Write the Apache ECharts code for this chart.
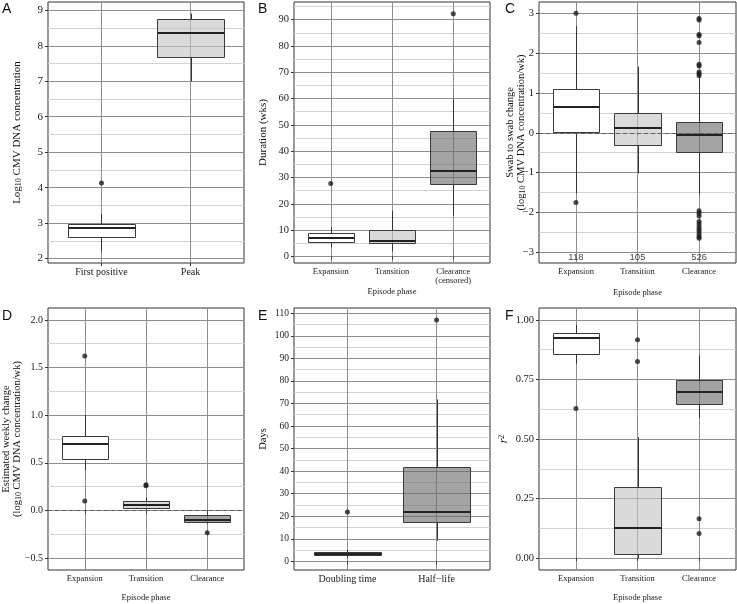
<!DOCTYPE html>
<html>
<head>
<meta charset="utf-8">
<script src="https://cdn.jsdelivr.net/npm/echarts@6/dist/echarts.min.js"></script>
<style>
html,body{margin:0;padding:0;background:#ffffff;}
#chart{width:737px;height:604px;}
</style>
</head>
<body>
<div id="chart"></div>
<script>
// ---------------- DATA ----------------
// box rows: [lower whisker, Q1, median, Q3, upper whisker]; outliers: [category position, value]

// Panel A
const aCategories = ['First positive', 'Peak'];
const aBoxes = [[2.21, 2.62, 2.86, 2.98, 3.26], [6.99, 7.69, 8.35, 8.75, 8.91]];
const aOutliers = [[1, 4.13]];
const aFills = ['white', 'light'];
const aRange = [1.876, 9.235];
const aMajorTicks = [2, 3, 4, 5, 6, 7, 8, 9];
const aMinorTicks = [2.5, 3.5, 4.5, 5.5, 6.5, 7.5, 8.5];

// Panel B
const bCategories = ['Expansion', 'Transition', 'Clearance\n(censored)'];
const bBoxes = [[3.5, 5.3, 7.1, 8.8, 11.1], [2.0, 5.2, 6.0, 10.2, 17.3], [15.5, 27.4, 32.3, 47.8, 59.8]];
const bOutliers = [[1, 27.7], [3, 92.2]];
const bFills = ['white', 'light', 'dark'];
const bRange = [-2.5, 96.7];
const bMajorTicks = [0, 10, 20, 30, 40, 50, 60, 70, 80, 90];
const bMinorTicks = [5, 15, 25, 35, 45, 55, 65, 75, 85, 95];

// Panel C
const cCategories = ['Expansion', 'Transition', 'Clearance'];
const cBoxes = [[-1.52, 0.03, 0.655, 1.09, 2.68], [-1.02, -0.31, 0.11, 0.49, 1.66], [-1.55, -0.49, -0.055, 0.26, 1.37]];
const cOutliers = [[1, 3.0], [1, -1.75],
  [3, 2.87], [3, 2.83], [3, 2.47], [3, 2.44], [3, 2.27], [3, 1.72], [3, 1.68], [3, 1.53], [3, 1.48], [3, 1.43],
  [3, -1.96], [3, -2.02], [3, -2.09], [3, -2.23], [3, -2.29], [3, -2.36], [3, -2.42], [3, -2.48], [3, -2.55], [3, -2.61], [3, -2.65]];
const cCounts = ['118', '105', '526'];
const cCountY = -3.13;
const cFills = ['white', 'light', 'dark'];
const cRange = [-3.27, 3.285];
const cMajorTicks = [-3, -2, -1, 0, 1, 2, 3];
const cMinorTicks = [-2.5, -1.5, -0.5, 0.5, 1.5, 2.5];
const cRefLine = 0;

// Panel D
const dCategories = ['Expansion', 'Transition', 'Clearance'];
const dBoxes = [[0.42, 0.54, 0.695, 0.78, 1.0], [0.01, 0.024, 0.06, 0.097, 0.135], [-0.14, -0.123, -0.099, -0.05, -0.03]];
const dOutliers = [[1, 1.62], [1, 0.10], [2, 0.27], [2, 0.26], [3, -0.235]];
const dFills = ['white', 'light', 'dark'];
const dRange = [-0.625, 2.125];
const dMajorTicks = [-0.5, 0, 0.5, 1.0, 1.5, 2.0];
const dMinorTicks = [-0.25, 0.25, 0.75, 1.25, 1.75];
const dRefLine = 0;

// Panel E
const eCategories = ['Doubling time', 'Half\u2212life'];
const eBoxes = [[1.5, 2.7, 3.5, 4.3, 5.0], [9.2, 17.6, 22.0, 41.9, 71.8]];
const eOutliers = [[1, 21.9], [2, 107.0]];
const eFills = ['white', 'dark'];
const eRange = [-3.8, 112.3];
const eMajorTicks = [0, 10, 20, 30, 40, 50, 60, 70, 80, 90, 100, 110];
const eMinorTicks = [5, 15, 25, 35, 45, 55, 65, 75, 85, 95, 105];

// Panel F
const fCategories = ['Expansion', 'Transition', 'Clearance'];
const fBoxes = [[0.817, 0.857, 0.925, 0.947, 0.979], [0.0, 0.018, 0.128, 0.30, 0.508], [0.59, 0.646, 0.698, 0.747, 0.85]];
const fOutliers = [[1, 0.628], [2, 0.917], [2, 0.825], [3, 0.165], [3, 0.103]];
const fFills = ['white', 'light', 'dark'];
const fRange = [-0.05, 1.05];
const fMajorTicks = [0, 0.25, 0.5, 0.75, 1.0];
const fMinorTicks = [0.125, 0.375, 0.625, 0.875];

// ---------------- STYLE ----------------
const SERIF = 'Liberation Serif';
const SANS = 'Liberation Sans';
const FILL = { white: '#ffffff', light: 'rgba(196,196,196,0.62)', dark: 'rgba(108,108,108,0.62)' };
const MAJOR_GRID = '#8e8e8e';
const MINOR_GRID = '#d2d2d2';
const BORDER = '#333333';
const BOX_HALF = 0.375;

const subRich = { fontFamily: SERIF, fontSize: 8, lineHeight: 5, padding: [3, 0, 0, 0], verticalAlign: 'bottom', color: '#111' };

const panels = [
  { letter: 'A', lx: 2, ly: 2, grid: { left: 48, top: 2, width: 196, height: 261 },
    cats: aCategories, boxes: aBoxes, outliers: aOutliers, fills: aFills, range: aRange, major: aMajorTicks, minor: aMinorTicks, dec: 0,
    tickFont: 11, catFont: 10, yName: '{n|Log}{sub|10}{n| CMV DNA concentration}', yNameFont: 11, yNameGap: 25, xName: '', xNameGap: 0 },
  { letter: 'B', lx: 258, ly: 2, grid: { left: 294, top: 2, width: 196, height: 261 },
    cats: bCategories, boxes: bBoxes, outliers: bOutliers, fills: bFills, range: bRange, major: bMajorTicks, minor: bMinorTicks, dec: 0,
    tickFont: 10.5, catFont: 8.5, yName: 'Duration (wks)', yNameFont: 11, yNameGap: 25, xName: 'Episode phase', xNameGap: 24 },
  { letter: 'C', lx: 505, ly: 2, grid: { left: 539, top: 2, width: 197, height: 261 },
    cats: cCategories, boxes: cBoxes, outliers: cOutliers, fills: cFills, range: cRange, major: cMajorTicks, minor: cMinorTicks, dec: 0,
    tickFont: 10.5, catFont: 8.5, yName: 'Swab to swab change\n({n|log}{sub|10}{n| CMV DNA concentration/wk})', yNameFont: 10.5, yNameGap: 12,
    xName: 'Episode phase', xNameGap: 25, refLine: cRefLine, counts: cCounts, countY: cCountY },
  { letter: 'D', lx: 2, ly: 309, grid: { left: 48, top: 308, width: 196, height: 262 },
    cats: dCategories, boxes: dBoxes, outliers: dOutliers, fills: dFills, range: dRange, major: dMajorTicks, minor: dMinorTicks, dec: 1,
    tickFont: 10, catFont: 8.5, yName: 'Estimated weekly change\n({n|log}{sub|10}{n| CMV DNA concentration/wk})', yNameFont: 10.5, yNameGap: 25,
    xName: 'Episode phase', xNameGap: 23, refLine: dRefLine },
  { letter: 'E', lx: 258, ly: 309, grid: { left: 294, top: 308, width: 196, height: 262 },
    cats: eCategories, boxes: eBoxes, outliers: eOutliers, fills: eFills, range: eRange, major: eMajorTicks, minor: eMinorTicks, dec: 0,
    tickFont: 9.5, catFont: 10, yName: 'Days', yNameFont: 10.5, yNameGap: 25, xName: '', xNameGap: 0 },
  { letter: 'F', lx: 505, ly: 309, grid: { left: 539, top: 308, width: 197, height: 262 },
    cats: fCategories, boxes: fBoxes, outliers: fOutliers, fills: fFills, range: fRange, major: fMajorTicks, minor: fMinorTicks, dec: 2,
    tickFont: 10.5, catFont: 8.5, yName: '{it|r}{sup|2}', yNameFont: 11, yNameGap: 30, xName: 'Episode phase', xNameGap: 23 }
];

function fmt(v, dec) {
  const s = Number(v).toFixed(dec);
  return s.replace('-', '\u2212');
}

function makeRender(fills) {
  return function (params, api) {
    const x = api.value(0);
    const pt = k => api.coord([x, api.value(k)]);
    const lo = pt(1), q1 = pt(2), md = pt(3), q3 = pt(4), hi = pt(5);
    const xl = api.coord([x - BOX_HALF, api.value(3)])[0];
    const xr = api.coord([x + BOX_HALF, api.value(3)])[0];
    const cx = Math.round(lo[0]) + 0.5;
    const L = Math.round(xl) + 0.5, R = Math.round(xr) + 0.5;
    const T = Math.round(q3[1]) + 0.5, B = Math.round(q1[1]) + 0.5;
    const M = Math.round(md[1]);
    const ws = { stroke: '#333333', lineWidth: 1, fill: null };
    return {
      type: 'group',
      children: [
        { type: 'line', shape: { x1: cx, y1: hi[1], x2: cx, y2: T }, style: ws },
        { type: 'line', shape: { x1: cx, y1: B, x2: cx, y2: lo[1] }, style: ws },
        { type: 'rect', shape: { x: L, y: T, width: R - L, height: B - T },
          style: { fill: FILL[fills[params.dataIndex]], stroke: '#3a3a3a', lineWidth: 1 } },
        { type: 'line', shape: { x1: L, y1: M, x2: R, y2: M }, style: { stroke: '#222222', lineWidth: 2, fill: null } }
      ]
    };
  };
}

const option = {
  animation: false,
  backgroundColor: '#ffffff',
  grid: [], xAxis: [], yAxis: [], series: [],
  graphic: []
};

panels.forEach((p, i) => {
  const n = p.cats.length;
  const positions = p.cats.map((c, k) => k + 1);
  option.grid.push(Object.assign({ show: true, borderColor: BORDER, borderWidth: 1, backgroundColor: 'transparent', containLabel: false, outerBoundsMode: 'none' }, p.grid));
  option.xAxis.push({
    type: 'value', gridIndex: i, min: 0.4, max: n + 0.6,
    axisLine: { show: false },
    axisTick: { show: true, customValues: positions, length: 3, lineStyle: { color: BORDER, width: 1 } },
    axisLabel: { customValues: positions, margin: 4, fontFamily: SERIF, fontSize: p.catFont, color: '#1a1a1a', lineHeight: p.catFont + 1,
      formatter: v => p.cats[Math.round(v) - 1] },
    splitLine: { show: true, lineStyle: { color: MAJOR_GRID, width: 1 } },
    name: p.xName, nameLocation: 'middle', nameGap: p.xNameGap, nameMoveOverlap: false,
    nameTextStyle: { fontFamily: SERIF, fontSize: 8.5, color: '#1a1a1a' }
  });
  // minor grid axis
  option.yAxis.push({
    type: 'value', gridIndex: i, min: p.range[0], max: p.range[1], position: 'left',
    axisLine: { show: false }, axisLabel: { show: false },
    axisTick: { show: false, customValues: p.minor },
    splitLine: { show: true, lineStyle: { color: MINOR_GRID, width: 1 } }
  });
  // major axis
  option.yAxis.push({
    type: 'value', gridIndex: i, min: p.range[0], max: p.range[1], position: 'left',
    axisLine: { show: false },
    axisTick: { show: true, customValues: p.major, length: 3, lineStyle: { color: BORDER, width: 1 } },
    axisLabel: { customValues: p.major, margin: 5, fontFamily: SERIF, fontSize: p.tickFont, color: '#1a1a1a',
      formatter: v => fmt(v, p.dec) },
    splitLine: { show: true, lineStyle: { color: MAJOR_GRID, width: 1 } },
    name: p.yName, nameLocation: 'middle', nameRotate: 90, nameGap: p.yNameGap, nameMoveOverlap: false,
    nameTextStyle: {
      fontFamily: SERIF, fontSize: p.yNameFont, color: '#111', lineHeight: 11, align: 'center',
      rich: {
        n: { fontFamily: SERIF, fontSize: p.yNameFont, lineHeight: 11, color: '#111' },
        sub: subRich,
        it: { fontFamily: SERIF, fontSize: 12, fontStyle: 'italic', lineHeight: 11, color: '#111' },
        sup: { fontFamily: SERIF, fontSize: 8, lineHeight: 5, padding: [0, 0, 3, 0], verticalAlign: 'top', color: '#111' }
      }
    }
  });
  const yIdx = 2 * i + 1;
  const boxSeries = {
    type: 'custom', xAxisIndex: i, yAxisIndex: yIdx,
    data: p.boxes.map((b, k) => [positions[k]].concat(b)),
    encode: { x: 0, y: [1, 2, 3, 4, 5] },
    renderItem: makeRender(p.fills),
    silent: true, clip: true, z: 3
  };
  if (p.refLine !== undefined) {
    boxSeries.markLine = {
      silent: true, symbol: ['none', 'none'], label: { show: false }, z: 10,
      lineStyle: { type: [4, 3], color: '#5e5e5e', width: 1 },
      data: [{ yAxis: p.refLine }]
    };
  }
  option.series.push(boxSeries);
  option.series.push({
    type: 'scatter', xAxisIndex: i, yAxisIndex: yIdx, data: p.outliers,
    symbol: 'circle', symbolSize: 5, itemStyle: { color: '#1c1c1c' }, silent: true, z: 5
  });
  if (p.counts) {
    option.series.push({
      type: 'scatter', xAxisIndex: i, yAxisIndex: yIdx,
      data: p.counts.map((c, k) => [positions[k], p.countY, c]),
      symbolSize: 1, itemStyle: { color: 'transparent' }, silent: true, z: 6,
      label: { show: true, position: 'inside', fontFamily: SANS, fontSize: 9.5, color: '#111',
        formatter: prm => prm.value[2] }
    });
  }
  option.graphic.push({
    type: 'text', left: p.lx, top: p.ly, z: 100,
    style: { text: p.letter, fontFamily: SANS, fontSize: 14, fill: '#111' }
  });
});

const chart = echarts.init(document.getElementById('chart'), null, { renderer: 'canvas' });
chart.setOption(option);
</script>
</body>
</html>
